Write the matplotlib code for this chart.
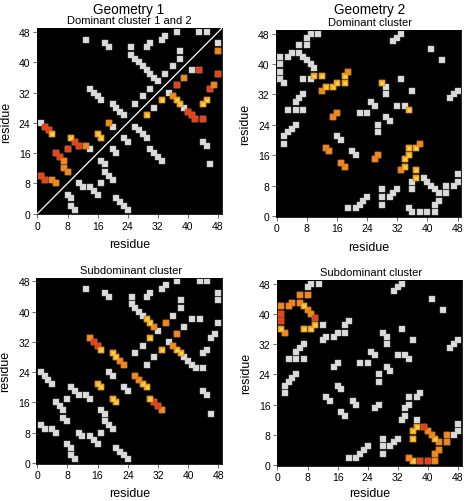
import matplotlib.pyplot as plt
import numpy as np

plt.rcParams['font.family'] = ['Liberation Sans', 'DejaVu Sans']

# native contacts (i < j), shown grey on both sides of the diagonal
geo1_contacts = [(1, 10), (2, 9), (4, 9), (5, 8), (5, 16), (6, 15), (7, 14), (7, 12), (8, 11), (8, 17),
                 (1, 24), (2, 23), (3, 22), (4, 21), (9, 20), (10, 19), (11, 18), (13, 18), (14, 17),
                 (16, 21), (17, 20), (19, 24), (20, 23),
                 (14, 33), (15, 32), (16, 31), (17, 30), (20, 29), (21, 28), (22, 27), (23, 26),
                 (26, 29), (28, 31), (30, 33),
                 (13, 46), (18, 45), (19, 44), (25, 44), (29, 44), (30, 45), (33, 46), (34, 47),
                 (37, 48), (43, 48), (45, 48),
                 (25, 42), (26, 41), (27, 40), (28, 39), (29, 38), (30, 37), (31, 36), (32, 35),
                 (34, 37), (36, 39), (38, 41), (38, 43)]

geo2_contacts = [(9, 48), (11, 48), (8, 47), (6, 45), (8, 45), (4, 43), (3, 42), (6, 43), (7, 42),
                 (8, 41), (9, 40), (10, 39), (1, 42), (1, 40), (1, 38), (1, 36), (2, 35), (7, 36),
                 (9, 36), (10, 37), (12, 37), (12, 33), (13, 34), (15, 34), (16, 35), (18, 37),
                 (19, 38), (18, 35), (28, 35), (29, 34), (29, 32), (33, 36), (41, 44), (31, 46),
                 (32, 47), (33, 48), (2, 21), (3, 22), (4, 23), (5, 24), (2, 19), (3, 28), (5, 28),
                 (7, 28), (5, 30), (6, 31), (7, 32), (16, 21), (17, 20), (13, 18), (14, 17),
                 (15, 26), (16, 27), (22, 27), (24, 27), (25, 30), (26, 29)]

# cluster contacts (i, j, level): 3 = red, 2 = orange, 1 = yellow with cross
g1_dom1 = [(1, 10, 3), (2, 9, 3), (4, 9, 2), (5, 8, 2), (5, 16, 3), (6, 15, 3), (7, 14, 2),
           (7, 12, 2), (8, 11, 2), (8, 17, 3), (2, 23, 3), (3, 22, 3), (4, 21, 1), (9, 20, 1),
           (10, 19, 3), (11, 18, 3), (13, 18, 2), (16, 21, 1), (17, 20, 1), (19, 24, 2)]
g1_dom2 = [(26, 29, 1), (30, 33, 1), (31, 36, 2), (30, 37, 1), (29, 38, 1), (27, 40, 3),
           (26, 41, 3), (25, 42, 3), (25, 44, 3), (29, 44, 1), (30, 45, 1), (33, 46, 3),
           (34, 47, 2), (37, 48, 3), (38, 43, 3), (36, 39, 2), (34, 37, 3), (43, 48, 2)]
g1_sub = [(14, 33, 2), (15, 32, 3), (16, 31, 3), (17, 30, 1), (20, 29, 1), (21, 28, 1),
          (22, 27, 2), (23, 26, 2), (30, 33, 1), (34, 37, 2), (29, 38, 1), (30, 37, 1),
          (31, 36, 2), (16, 21, 1), (17, 20, 1)]
g2_dom = [(10, 37, 1), (12, 37, 1), (12, 33, 2), (13, 34, 1), (15, 34, 1), (16, 35, 1),
          (18, 37, 1), (19, 38, 2), (18, 35, 1), (28, 35, 1), (13, 18, 2), (14, 17, 2),
          (15, 26, 2), (16, 27, 2)]
g2_sub = [(6, 45, 2), (8, 45, 2), (4, 43, 2), (3, 42, 2), (6, 43, 2), (7, 42, 1), (8, 41, 2),
          (9, 40, 2), (10, 39, 3), (1, 42, 2), (1, 40, 3), (1, 38, 3), (1, 36, 1), (2, 35, 2),
          (7, 36, 1), (9, 36, 1), (10, 37, 1)]

ticks = [0, 8, 16, 24, 32, 40, 48]
level_col = {3: '#e8401c', 2: '#f08a1d', 1: '#f6a820'}
SQ = 13


def draw_panel(ax, contacts, layers, diag=False, xlab_y=-0.16):
    ax.set_facecolor('black')
    c = np.array(contacts)
    ax.scatter(np.r_[c[:, 0], c[:, 1]], np.r_[c[:, 1], c[:, 0]], s=SQ, marker='s',
               c='#dcdcdc', edgecolors='#bdbdbd', linewidths=0.3, zorder=2)
    for pts, side in layers:
        for i, j, lev in pts:
            xy = []
            if side in ('upper', 'both'):
                xy.append((i, j))
            if side in ('lower', 'both'):
                xy.append((j, i))
            for x, y in xy:
                ax.scatter(x, y, s=SQ, marker='s', c=level_col[lev],
                           edgecolors='#d0661a', linewidths=0.3, zorder=3)
                if lev == 1:
                    ax.scatter(x, y, s=7, marker='x', c='#fff060', linewidths=0.6, zorder=4)
    if diag:
        ax.plot([0, 1], [0, 1], transform=ax.transAxes, color='white', lw=0.9, zorder=5)
    ax.set_xlim(-0.2, 49)
    ax.set_ylim(-0.2, 49)
    ax.set_xticks(ticks)
    ax.set_yticks(ticks)
    ax.tick_params(direction='out', length=3, width=0.6, color='#555555', labelsize=7.5, pad=1.5)
    for s in ax.spines.values():
        s.set_linewidth(0.6)
    ax.set_xlabel('residue', fontsize=9)
    ax.set_ylabel('residue', fontsize=9)
    ax.xaxis.set_label_coords(0.5, xlab_y)
    ax.xaxis.label.set_va('center')
    ax.yaxis.set_label_coords(-0.165, 0.5)
    ax.yaxis.label.set_va('center')


fig = plt.figure(figsize=(4.65, 5.02), dpi=100)
ax1 = fig.add_axes([0.0789, 0.571, 0.398, 0.3705])
ax2 = fig.add_axes([0.5935, 0.5663, 0.3985, 0.372])
ax3 = fig.add_axes([0.078, 0.0743, 0.400, 0.3705])
ax4 = fig.add_axes([0.595, 0.070, 0.398, 0.3705])

draw_panel(ax1, geo1_contacts, [(g1_dom1, 'upper'), (g1_dom2, 'lower')], diag=True)
draw_panel(ax2, geo2_contacts, [(g2_dom, 'both')])
draw_panel(ax3, geo1_contacts, [(g1_sub, 'both')])
draw_panel(ax4, geo2_contacts, [(g2_sub, 'both')], xlab_y=-0.145)

fig.text(0.2774, 0.980, 'Geometry 1', ha='center', va='center', fontsize=9.8)
fig.text(0.2774, 0.959, 'Dominant cluster 1 and 2', ha='center', va='center', fontsize=8)
fig.text(0.7957, 0.980, 'Geometry 2', ha='center', va='center', fontsize=9.8)
fig.text(0.7957, 0.954, 'Dominant cluster', ha='center', va='center', fontsize=8)
fig.text(0.2817, 0.460, 'Subdominant cluster', ha='center', va='center', fontsize=8)
fig.text(0.797, 0.457, 'Subdominant cluster', ha='center', va='center', fontsize=8)

fig.savefig('out.png', dpi=100)
